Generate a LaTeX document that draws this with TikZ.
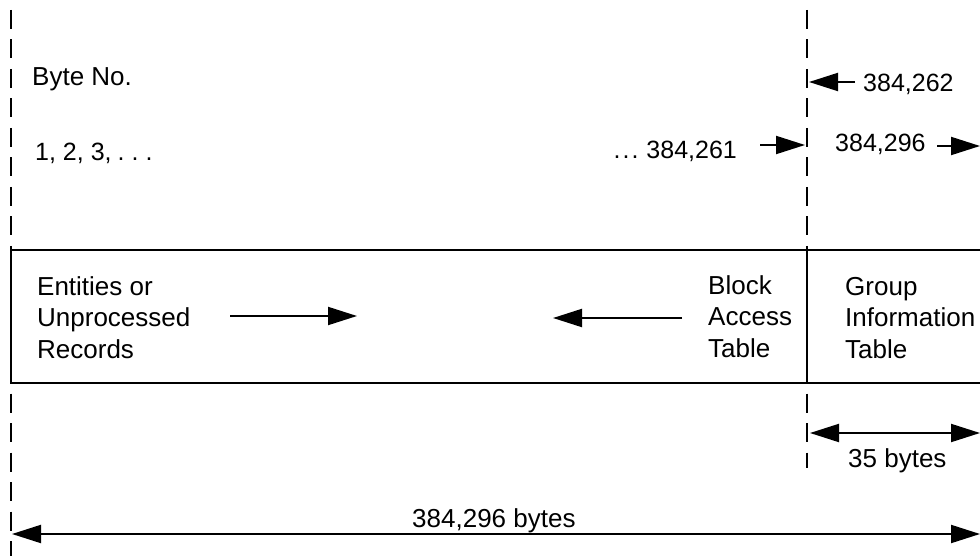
\documentclass[tikz,border=0pt]{standalone}
\usepackage{fontspec}
\setmainfont{Liberation Sans}
\usetikzlibrary{arrows.meta}
\begin{document}
\begin{tikzpicture}[x=1pt,y=-1pt,
  lbl/.style={inner sep=0pt, font=\fontsize{26}{31.5}\selectfont},
  num/.style={inner sep=0pt, font=\fontsize{25}{30}\selectfont},
  guide/.style={line width=2pt, dash pattern=on 19pt off 10.5pt},
  frame/.style={line width=2.2pt},
  arr/.style={line width=2pt, -{Triangle[length=29pt,width=18pt]}},
  darr/.style={line width=2pt, {Triangle[length=29pt,width=18pt]}-{Triangle[length=29pt,width=18pt]}}
]
\useasboundingbox (0,0) rectangle (980,556);
% guide lines
\coordinate (Ltop) at (11,10);
\coordinate (Lbot) at (11,560);
\coordinate (Mtop) at (807,10);
\coordinate (Mbot) at (807,468);
\draw[guide] (Ltop) -- (Lbot);
\draw[guide] (Mtop) -- (Mbot);
% frame
\coordinate (BoxTL) at (11,250);
\coordinate (BoxBL) at (11,383);
\coordinate (BoxTR) at (995,250);
\coordinate (BoxBR) at (995,383);
\coordinate (DivT) at (807,250);
\coordinate (DivB) at (807,383);
\draw[frame] (BoxTR) -- (BoxTL) -- (BoxBL) -- (BoxBR);
\draw[frame] (DivT) -- (DivB);
% top labels
\node[lbl, anchor=base west] (byteno) at (32,86) {Byte No.};
\node[num, anchor=base west] (first) at (35,161) {1, 2, 3,\kern6pt.\kern7pt.\kern7pt.};
\node[num, anchor=base east] (last) at (737,159) {.\kern2pt.\kern2pt.\kern8pt384,261};
\node[num, anchor=base west] (n262) at (863,92) {384,262};
\node[num, anchor=base west] (n296) at (835,152) {384,296};
\coordinate (a261s) at (760,145);
\coordinate (a261e) at (805,145);
\draw[arr] (a261s) -- (a261e);
\coordinate (a262s) at (855,82);
\coordinate (a262e) at (809,82);
\draw[arr] (a262s) -- (a262e);
\coordinate (a296s) at (937,146);
\coordinate (a296e) at (980,146);
\draw[arr] (a296s) -- (a296e);
% box labels (base anchor = last line)
\node[lbl, align=left, anchor=base west] (ent) at (37,358) {Entities or\\Unprocessed\\Records};
\node[lbl, align=left, anchor=base west] (bat) at (708,357) {Block\\Access\\Table};
\node[lbl, align=left, anchor=base west] (git) at (845,358) {Group\\Information\\Table};
\coordinate (rs) at (230,316);
\coordinate (re) at (357,316);
\draw[arr] (rs) -- (re);
\coordinate (ls) at (682,318);
\coordinate (le) at (553,318);
\draw[arr] (ls) -- (le);
% dimension arrows
\coordinate (d35a) at (810,433);
\coordinate (d35b) at (980,433);
\draw[darr] (d35a) -- (d35b);
\node[lbl, anchor=base west] (t35) at (848,467) {35 bytes};
\coordinate (dalla) at (12,534);
\coordinate (dallb) at (980,534);
\draw[darr] (dalla) -- (dallb);
\node[lbl, anchor=base west] (tall) at (412,527) {384,296 bytes};
\end{tikzpicture}
\end{document}
